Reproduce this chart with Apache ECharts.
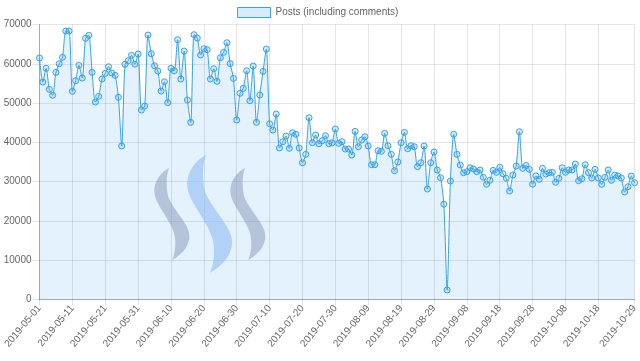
<!DOCTYPE html>
<html><head><meta charset="utf-8">
<script src="https://cdn.jsdelivr.net/npm/echarts@6/dist/echarts.min.js"></script>
<style>html,body{margin:0;padding:0;background:#fff}#c{width:640px;height:361px}</style>
</head><body><div id="c"></div>
<script>
// ---- data ----
const seriesName = 'Posts (including comments)';
const startDate = '2019-05-01';
const dayCount = 182;
const posts = [
61500,55350,58840,53500,51970,57820,60010,61640,68330,68330,
52990,55690,59600,56370,66470,67240,57820,50260,51710,56120,
57570,59250,57640,57060,51460,39070,59860,60780,62150,59900,
62480,48230,49250,67320,62560,59500,58150,53060,55430,50090,
58840,58230,66120,56120,63240,50770,45100,67400,66550,62230,
63830,63580,56120,58740,55530,61540,62910,65360,60050,56290,
45680,52480,53750,58230,50600,59420,45100,52050,58070,63750,
44740,43140,47210,38560,40160,41610,38480,42450,42040,38560,
34800,36950,46270,39910,41870,39650,40420,41690,39650,39870,
43390,39750,40160,38300,38300,36780,42800,38890,40590,41430,
39070,34310,34310,37870,37720,42300,39140,36950,32780,34990,
39910,42550,38380,39140,38890,33800,34820,39070,28120,34820,
37540,32960,31000,24270,2420,30160,42040,36950,34230,32270,
32530,33540,33210,32530,32960,31100,29320,30340,32880,32370,
33640,32020,30840,27610,31690,33980,42710,33390,34100,33140,
29350,31470,30600,33390,31940,32270,32370,29830,30840,33540,
32370,32960,32960,34480,30240,30750,34310,32270,30920,33140,
30920,29320,31100,32960,30340,31690,31430,30920,27360,28710,
31430,29730
];
const yMin = 0, yMax = 70000, yStep = 10000;
const labelEvery = 10;

// ---- categories (consecutive days) ----
const dates = [];
(function(){
  const d0 = new Date(startDate + 'T00:00:00Z');
  for (let i = 0; i < dayCount; i++) {
    const d = new Date(d0.getTime() + i * 86400000);
    dates.push(d.toISOString().slice(0, 10));
  }
})();
const last = dates.length - 1;
const showIdx = (i) => (i % labelEvery === 0 && last - i > 5) || i === last;

const FONT = '"Liberation Sans", Arial, Helvetica, sans-serif';
const BLUE = 'rgb(54,162,235)';
const FILL = 'rgba(54,162,235,0.2)';

// Steem-like watermark stroke outline (cubic bezier segments, local coords)
const strokeSegs = [
  [[0,0],[-10,5],[-17,17],[-14,28]],
  [[-14,28],[-11,40],[4,55],[6,70]],
  [[6,70],[7,80],[5,88],[3,92]],
  [[3,92],[14,86],[22,76],[20,65]],
  [[20,65],[18,54],[3,40],[-1,28]],
  [[-1,28],[-3,18],[-3,8],[0,0]]
];
function strokePoly(ox, oy, s) {
  const pts = [];
  strokeSegs.forEach(seg => {
    for (let k = 0; k < 12; k++) {
      const t = k / 12, u = 1 - t;
      const x = u*u*u*seg[0][0] + 3*u*u*t*seg[1][0] + 3*u*t*t*seg[2][0] + t*t*t*seg[3][0];
      const y = u*u*u*seg[0][1] + 3*u*u*t*seg[1][1] + 3*u*t*t*seg[2][1] + t*t*t*seg[3][1];
      pts.push([ox + x*s, oy + y*s]);
    }
  });
  return pts;
}

const chart = echarts.init(document.getElementById('c'), null, {renderer: 'canvas'});
chart.setOption({
  animation: false,
  backgroundColor: '#fff',
  textStyle: {fontFamily: FONT},
  legend: {
    top: 2, left: 232,
    icon: 'rect', itemWidth: 33, itemHeight: 10, itemGap: 10,
    textStyle: {color: '#666', fontSize: 10, fontFamily: FONT},
    itemStyle: {color: FILL, borderColor: BLUE, borderWidth: 1},
    data: [seriesName]
  },
  grid: {left: 39.5, right: 5.5, top: 24.5, bottom: 61.5, containLabel: false, outerBoundsMode: 'none'},
  xAxis: {
    type: 'category', data: dates, boundaryGap: false,
    axisLine: {lineStyle: {color: 'rgba(0,0,0,0.25)'}},
    axisTick: {show: true, interval: (i) => showIdx(i), length: 6, lineStyle: {color: 'rgba(0,0,0,0.1)'}},
    splitLine: {show: true, interval: (i) => showIdx(i), lineStyle: {color: 'rgba(0,0,0,0.1)'}},
    axisLabel: {interval: (i) => showIdx(i), rotate: 50, color: '#666', fontSize: 10, fontFamily: FONT, margin: 7}
  },
  yAxis: {
    type: 'value', min: yMin, max: yMax, interval: yStep,
    axisLine: {show: true, lineStyle: {color: 'rgba(0,0,0,0.25)'}},
    axisTick: {show: true, length: 7, lineStyle: {color: 'rgba(0,0,0,0.1)'}},
    splitLine: {lineStyle: {color: 'rgba(0,0,0,0.1)'}},
    axisLabel: {color: '#666', fontSize: 10, fontFamily: FONT, margin: 8, formatter: (v) => String(v)}
  },
  graphic: [
    {type: 'polygon', z: 10, silent: true, shape: {points: strokePoly(169, 168, 1)},
     style: {fill: 'rgb(137,149,186)', opacity: 0.5}},
    {type: 'polygon', z: 10, silent: true, shape: {points: strokePoly(206, 155, 1.28)},
     style: {fill: 'rgb(143,186,243)', opacity: 0.6}},
    {type: 'polygon', z: 10, silent: true, shape: {points: strokePoly(245, 168, 1)},
     style: {fill: 'rgb(137,149,186)', opacity: 0.5}}
  ],
  series: [{
    name: seriesName, type: 'line', data: posts,
    smooth: 0.25,
    symbol: 'circle', symbolSize: 6, showSymbol: true, showAllSymbol: true,
    lineStyle: {color: BLUE, width: 1},
    itemStyle: {color: FILL, borderColor: BLUE, borderWidth: 1},
    areaStyle: {color: FILL, origin: 'start'}
  }]
});
</script>
</body></html>
